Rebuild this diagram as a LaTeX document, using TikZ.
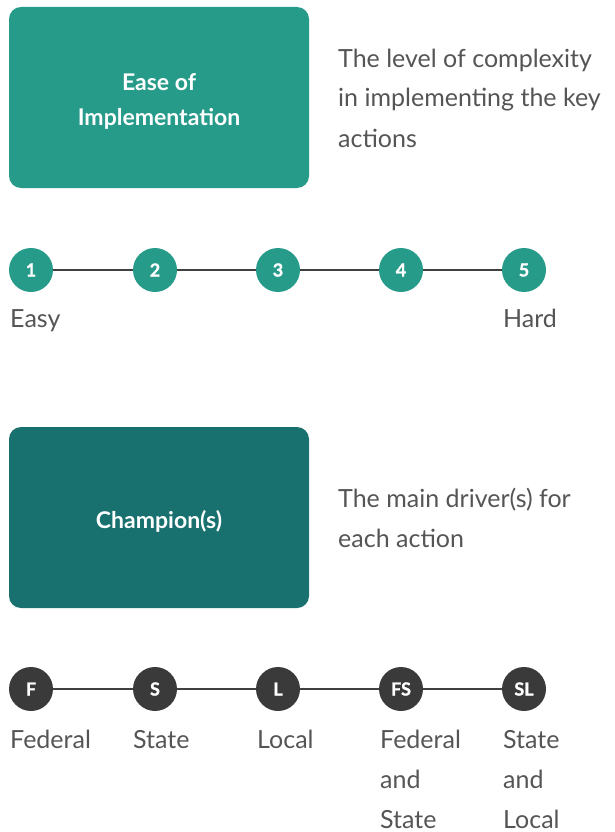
\documentclass[tikz,border=0pt]{standalone}
\usepackage{fontspec}
\setmainfont{Lato}
\newfontfamily\heavyfont{Lato Bold}[FakeBold=1.2]
\definecolor{tealA}{HTML}{269B8A}
\definecolor{tealB}{HTML}{18706F}
\definecolor{darkdot}{HTML}{3A3A3A}
\definecolor{linegray}{HTML}{404040}
\definecolor{txtgray}{HTML}{555555}
\begin{document}
\begin{tikzpicture}[x=1pt,y=-1pt,
  titlebox/.style={rounded corners=12pt, minimum width=300pt, minimum height=181pt, inner sep=0pt},
  titletext/.style={inner sep=0pt, text=white, font=\fontsize{23}{35}\selectfont\bfseries, align=center},
  desc/.style={anchor=base west, inner sep=0pt, text=txtgray, font=\fontsize{25}{40}\selectfont, align=left},
  dot/.style={circle, minimum size=44pt, inner sep=0pt, text=white, font=\fontsize{18}{18}\selectfont\heavyfont},
  tdot/.style={dot, fill=tealA},
  ddot/.style={dot, fill=darkdot},
  link/.style={draw=linegray, line width=2pt}]
\useasboundingbox (0,0) rectangle (614,832);
% top section
\node[titlebox, fill=tealA] (box1) at (159,97.5) {};
\node[titletext] (t1) at ([yshift=-3.5pt]box1.center) {Ease of\\Implementation};
\node[desc] (desc1) at (338,147) {The level of complexity\\in implementing the key\\actions};
\node[tdot] (n1) at (31,270) {1};
\node[tdot] (n2) at (155,270) {2};
\node[tdot] (n3) at (278,270) {3};
\node[tdot] (n4) at (401,270) {4};
\node[tdot] (n5) at (524,270) {5};
\draw[link] (n1) -- (n2);
\draw[link] (n2) -- (n3);
\draw[link] (n3) -- (n4);
\draw[link] (n4) -- (n5);
\node[desc] (easy) at (10,327) {Easy};
\node[desc] (hard) at (503,327) {Hard};
% bottom section
\node[titlebox, fill=tealB] (box2) at (159,517.5) {};
\node[titletext] (t2) at ([yshift=-3.5pt]box2.center) {Champion(s)};
\node[desc] (desc2) at (338,547) {The main driver(s) for\\each action};
\node[ddot] (f) at (31,689) {F};
\node[ddot] (s) at (155,689) {S};
\node[ddot] (l) at (278,689) {L};
\node[ddot] (fs) at (401,689) {FS};
\node[ddot] (sl) at (524,689) {SL};
\draw[link] (f) -- (s);
\draw[link] (s) -- (l);
\draw[link] (l) -- (fs);
\draw[link] (fs) -- (sl);
\node[desc] (lf) at (10,748) {Federal};
\node[desc] (ls) at (133,748) {State};
\node[desc] (ll) at (257,748) {Local};
\node[desc] (lfs) at (380,828) {Federal\\and\\State};
\node[desc] (lsl) at (503,828) {State\\and\\Local};
\end{tikzpicture}
\end{document}
